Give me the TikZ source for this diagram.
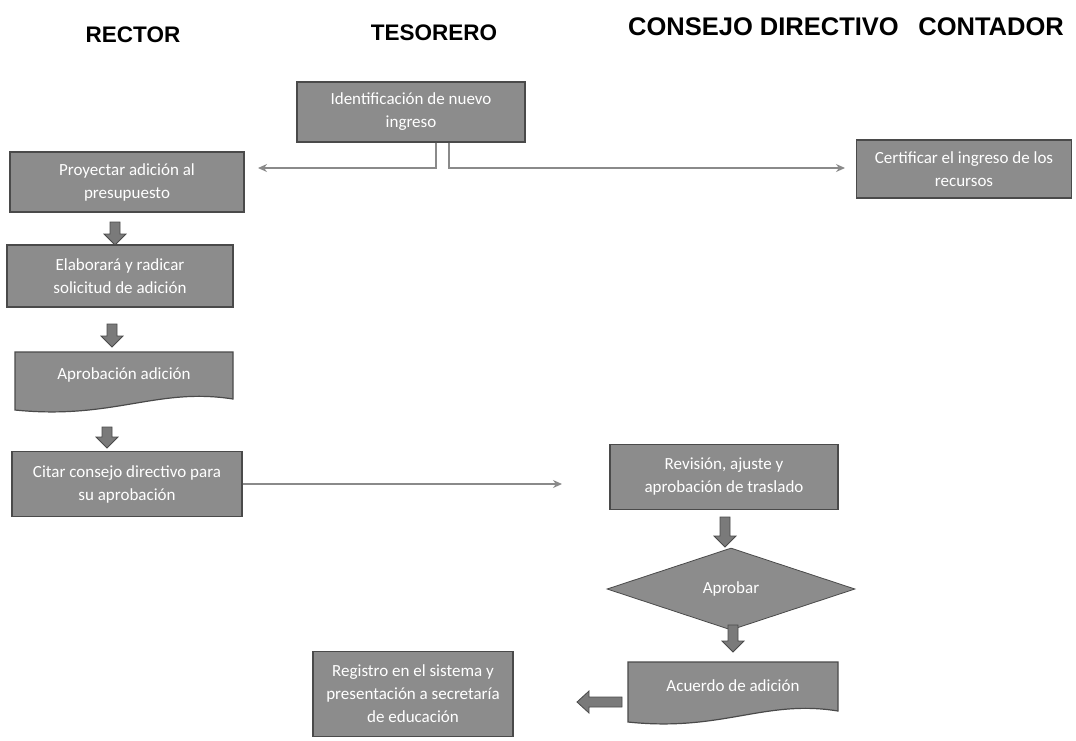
\documentclass[tikz,border=0pt]{standalone}
\usepackage{fontspec}
\setmainfont{Carlito}
\newfontfamily\hdrfont{Liberation Sans}
\usetikzlibrary{shapes.geometric,arrows.meta,calc}
\definecolor{boxfill}{HTML}{8C8C8C}
\definecolor{boxedge}{HTML}{4A4A4A}
\definecolor{arrfill}{HTML}{7A7A7A}
\definecolor{linegray}{HTML}{8A8A8A}
% document shape: x1, ytop, x2, yleftbottom, yrightbottom
\newcommand\mydocshape[5]{%
  \draw[docfill] (#1,#2) -- (#3,#2) -- (#3,#5)
    .. controls ({#3-0.35*(#3-#1)},{#5-12}) and ({#1+0.45*(#3-#1)},{#4+10}) .. (#1,#4) -- cycle;}
\begin{document}
\begin{tikzpicture}[x=1pt,y=-1pt,
  hdr/.style={font=\hdrfont\bfseries\fontsize{22.5}{26}\selectfont, text=black, inner sep=0pt},
  hdrb/.style={font=\hdrfont\bfseries\fontsize{25.5}{29}\selectfont, text=black, inner sep=0pt},
  procbox/.style={rectangle, fill=boxfill, draw=boxedge, line width=1.2pt, text=white,
    align=center, font=\fontsize{17}{23}\selectfont, inner sep=2pt},
  docfill/.style={fill=boxfill, draw=boxedge, line width=1.2pt},
  doctext/.style={text=white, align=center, font=\fontsize{17}{23}\selectfont, inner sep=0pt},
  decide/.style={diamond, fill=boxfill, draw=boxedge, line width=0.8pt, text=white,
    font=\fontsize{17}{23}\selectfont, inner sep=0pt, minimum width=248pt, minimum height=82pt},
  blockarr/.style={fill=arrfill, draw=boxedge, line width=0.8pt, line join=miter},
  conn/.style={draw=linegray, line width=1.3pt, -{Stealth[length=9pt,width=8pt]}},
  pics/bdown/.style={code={\draw[blockarr] (-5,0) -- (5,0) -- (5,{#1-11}) -- (11,{#1-11}) -- (0,#1) -- (-11,{#1-11}) -- (-5,{#1-11}) -- cycle;}},
  pics/bleft/.style={code={\draw[blockarr] (0,-5) -- ({12-#1},-5) -- ({12-#1},-11) -- (-#1,0) -- ({12-#1},11) -- ({12-#1},5) -- (0,5) -- cycle;}}
]
\useasboundingbox (0,0) rectangle (1076,740);

% headers
\node[hdr] (hR) at (133,35) {RECTOR};
\node[hdr] (hT) at (434,33) {TESORERO};
\node[hdrb, anchor=west] (hC) at (628,27) {CONSEJO DIRECTIVO};
\node[hdrb, anchor=east] (hK) at (1064,27) {CONTADOR};

% boxes
\node[procbox, minimum width=228pt, minimum height=60pt] (ident) at (411,112) {Identificación de nuevo\\ingreso};
\node[procbox, minimum width=234pt, minimum height=60pt] (proy) at (127,182) {Proyectar adición al\\presupuesto};
\node[procbox, minimum width=215pt, minimum height=58pt] (cert) at (964,169) {Certificar el ingreso de los\\recursos};
\node[procbox, minimum width=226pt, minimum height=62pt] (elab) at (120,276) {Elaborará y radicar\\solicitud de adición};
\mydocshape{15}{352}{233}{410}{399}
\node[doctext] (aprob) at (124,375) {Aprobación adición};
\node[procbox, minimum width=230pt, minimum height=65pt] (citar) at (127,484) {Citar consejo directivo para\\su aprobación};
\node[procbox, minimum width=228pt, minimum height=65pt] (revis) at (724,477) {Revisión, ajuste y\\aprobación de traslado};
\node[decide] (aprobar) at (731,589) {Aprobar};
\mydocshape{628}{662}{838}{722}{711}
\node[doctext] (acuerdo) at (733,686) {Acuerdo de adición};
\node[procbox, minimum width=200pt, minimum height=85pt] (reg) at (413,694) {Registro en el sistema y\\presentación a secretaría\\de educación};

% thin connectors
\coordinate (pL) at (258,168);
\coordinate (cR) at (845,168);
\coordinate (rL) at (562,484);
\draw[conn] ([xshift=25pt]ident.south) |- (pL);
\draw[conn] ([xshift=38pt]ident.south) |- (cR);
\draw[conn] (citar.east) -- (rL);

% block arrows
\pic at (115,222) {bdown=23};
\pic at (112,324) {bdown=23};
\pic at (107,427) {bdown=21};
\pic at (725,517) {bdown=30};
\pic at (733,625) {bdown=27};
\pic at (622,702) {bleft=45};
\end{tikzpicture}
\end{document}
